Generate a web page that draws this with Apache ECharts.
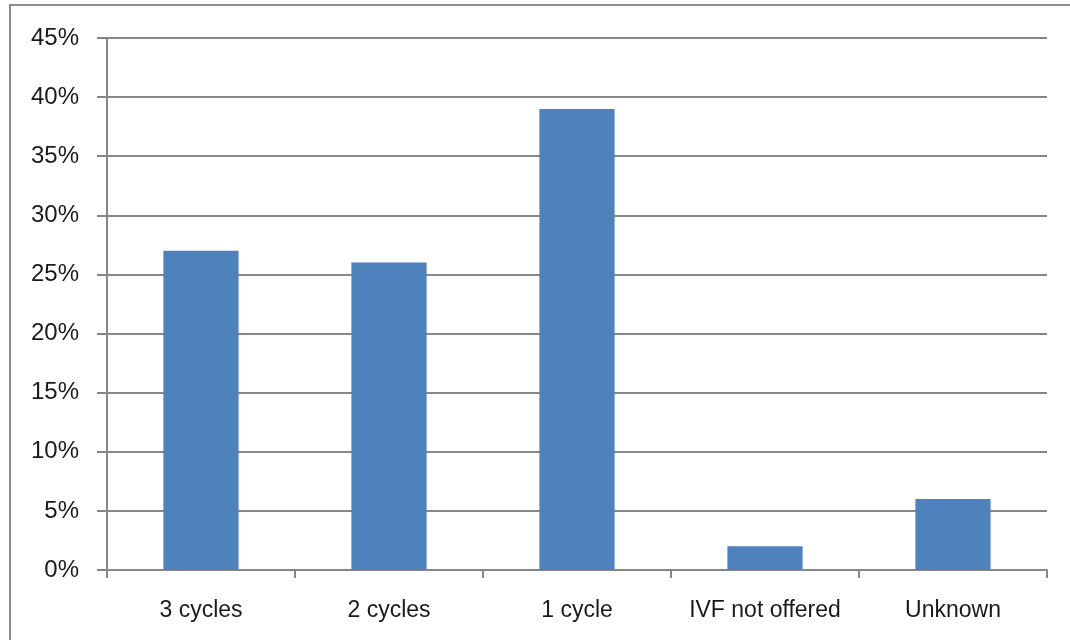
<!DOCTYPE html>
<html>
<head>
<meta charset="utf-8">
<style>
  html, body { margin: 0; padding: 0; background: #ffffff; }
  #chart { width: 1070px; height: 640px; }
</style>
<script src="https://cdn.jsdelivr.net/npm/echarts@6/dist/echarts.min.js"></script>
</head>
<body>
<div id="chart"></div>
<script>
// IVF cycles offered: share of respondents per category
const categories = ['3 cycles', '2 cycles', '1 cycle', 'IVF not offered', 'Unknown'];
const shares = [27, 26, 39, 2, 6];
const yTicks = { min: 0, max: 45, interval: 5 };

const lineColor = '#878787';
const textColor = '#1a1a1a';
const fontFamily = '"Liberation Sans", "DejaVu Sans", sans-serif';

const chart = echarts.init(document.getElementById('chart'), null, { renderer: 'canvas' });
chart.setOption({
  animation: false,
  backgroundColor: '#ffffff',
  graphic: [{
    type: 'rect',
    shape: { x: 10, y: 5, width: 1100, height: 700 },
    style: { fill: 'none', stroke: '#8c8c8c', lineWidth: 2 },
    silent: true
  }],
  grid: { left: 107, right: 23, top: 38, bottom: 70, containLabel: false },
  xAxis: {
    type: 'category',
    data: categories,
    axisLine: { show: true, lineStyle: { color: lineColor, width: 2 } },
    axisTick: { show: true, interval: 0, alignWithLabel: false, length: 8, lineStyle: { color: lineColor, width: 2 } },
    axisLabel: { interval: 0, color: textColor, fontSize: 23, fontFamily: fontFamily, margin: 29 },
    splitLine: { show: false }
  },
  yAxis: {
    type: 'value',
    min: yTicks.min,
    max: yTicks.max,
    interval: yTicks.interval,
    axisLine: { show: true, lineStyle: { color: lineColor, width: 2 } },
    axisTick: { show: true, length: 10, lineStyle: { color: lineColor, width: 2 } },
    axisLabel: { color: textColor, fontSize: 24, fontFamily: fontFamily, margin: 28, formatter: v => v + '%' },
    splitLine: { show: true, lineStyle: { color: lineColor, width: 2 } }
  },
  series: [{
    type: 'bar',
    data: shares,
    barWidth: '40%',
    itemStyle: { color: '#4f81bd' }
  }]
});
</script>
</body>
</html>
